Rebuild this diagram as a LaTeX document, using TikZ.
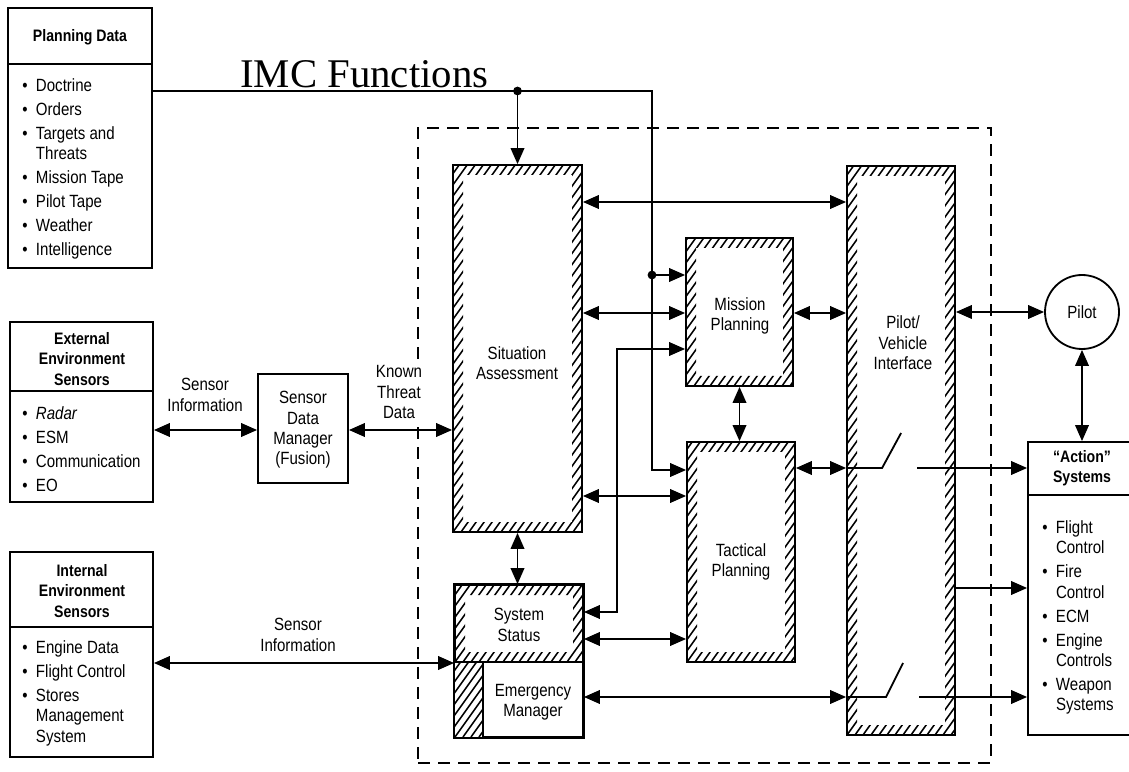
\documentclass[tikz,border=0pt]{standalone}
\usepackage{fontspec}
\setmainfont{Liberation Sans}[FakeStretch=0.85]
\newfontfamily\titlefont{Liberation Serif}
\usepackage{tikz}
\usetikzlibrary{arrows.meta,positioning,calc,fit}

\newcommand{\txt}{\fontsize{12.6}{14.5}\selectfont}
\newcommand{\hdr}{\fontsize{11.8}{14.5}\selectfont\bfseries}

\begin{document}
\begin{tikzpicture}[x=0.25mm,y=-0.25mm,
    >={Triangle[length=4mm,width=3.4mm]},
    box/.style={draw, line width=1.3pt, inner sep=0pt},
    conn/.style={line width=1.3pt},
    lbl/.style={font=\txt, align=center, inner sep=0pt},
    head/.style={font=\hdr, align=center, inner sep=0pt},
    imcbox/.style={draw, line width=1.3pt, dash pattern=on 3mm off 2mm, inner sep=0pt},
    hatched/.style={path picture={
      \begin{scope}[even odd rule]
        \clip (path picture bounding box.south west) rectangle (path picture bounding box.north east)
          ([shift={(#1,-#1)}]path picture bounding box.south west) rectangle ([shift={(-#1,#1)}]path picture bounding box.north east);
        \foreach \k in {-480,-472,...,150}
          \draw[line width=1.1pt] ([shift={(\k,0)}]path picture bounding box.south west) -- ++(500,-700);
      \end{scope}}},
    hatched/.default=10]
  \useasboundingbox (0,0) rectangle (1129,772);

  % title and IMC frame
  \node[font=\fontsize{29}{30}\selectfont\titlefont, anchor=base west, inner sep=0pt] (title) at (240,88) {IMC Functions};
  \node[imcbox, fit={(418,128) (991,763)}] (imc) {};

  % source boxes on the left
  \node[box, fit={(8,8) (152,268)}] (plan) {};
  \draw[line width=1.3pt] (plan.west |- 0,64) -- (plan.east |- 0,64);
  \node[head] (planhead) at (80,37) {Planning Data};
  \node[lbl, anchor=north west, align=left] (planlist) at (22,77) {%
    \begin{tabular}{@{}c@{\hspace{6pt}}l@{}}
      \textbullet & Doctrine\\[2.5pt]
      \textbullet & Orders\\[2.5pt]
      \textbullet & Targets and\\
                  & Threats\\[2.5pt]
      \textbullet & Mission Tape\\[2.5pt]
      \textbullet & Pilot Tape\\[2.5pt]
      \textbullet & Weather\\[2.5pt]
      \textbullet & Intelligence
    \end{tabular}};

  \node[box, fit={(10,322) (153,502)}] (ext) {};
  \draw[line width=1.3pt] (ext.west |- 0,391) -- (ext.east |- 0,391);
  \node[head] (exthead) at (82,359) {External\\Environment\\Sensors};
  \node[lbl, anchor=north west, align=left] (extlist) at (22,405) {%
    \begin{tabular}{@{}c@{\hspace{6pt}}l@{}}
      \textbullet & \textit{Radar}\\[2.5pt]
      \textbullet & ESM\\[2.5pt]
      \textbullet & Communication\\[2.5pt]
      \textbullet & EO
    \end{tabular}};

  \node[box, fit={(10,552) (153,757)}] (int) {};
  \draw[line width=1.3pt] (int.west |- 0,627) -- (int.east |- 0,627);
  \node[head] (inthead) at (82,591) {Internal\\Environment\\Sensors};
  \node[lbl, anchor=north west, align=left] (intlist) at (22,639) {%
    \begin{tabular}{@{}c@{\hspace{6pt}}l@{}}
      \textbullet & Engine Data\\[2.5pt]
      \textbullet & Flight Control\\[2.5pt]
      \textbullet & Stores\\
                  & Management\\
                  & System
    \end{tabular}};

  \node[box, fit={(258,374) (348,483)}] (sdm) {};
  \node[lbl] (sdmtxt) at (303,430) {Sensor\\Data\\Manager\\(Fusion)};
  \node[lbl] (seninfo) at (205,395) {Sensor\\Information};
  \node[lbl, fill=white, inner sep=1pt] (threat) at (399,392) {Known\\Threat\\Data};
  \node[lbl] (seninfob) at (298,635) {Sensor\\Information};

  % IMC function blocks
  \node[box, hatched, fit={(453,165) (582,532)}] (sa) {};
  \node[lbl] (satxt) at (517,363) {Situation\\Assessment};
  \node[box, hatched, fit={(455,585) (583,662)}] (ss) {};
  \node[hatched=14, inner sep=0pt, fit={(455,662) (483,737)}] (ssfoot) {};
  \node[box, fill=white, fit={(483,662) (583,737)}] (em) {};
  \draw[line width=1.3pt] (ss.north west) rectangle (em.south east);
  \node[lbl] (sstxt) at (519,625) {System\\Status};
  \node[lbl] (emtxt) at (533,702) {Emergency\\Manager};
  \node[box, hatched, fit={(686,238) (793,386)}] (mp) {};
  \node[lbl] (mptxt) at (740,316) {Mission\\Planning};
  \node[box, hatched, fit={(687,442) (795,662)}] (tp) {};
  \node[lbl] (tptxt) at (741,562) {Tactical\\Planning};
  \node[box, hatched, fit={(847,166) (955,735)}] (pvi) {};
  \node[lbl] (pvitxt) at (903,343) {Pilot/\\Vehicle\\Interface};

  % pilot and action systems
  \node[box, circle, minimum size=18.5mm, font=\txt] (pilot) at (1082,312) {Pilot};
  \node[box, fit={(1028,442) (1136,735)}] (act) {};
  \draw[line width=1.3pt] (act.west |- 0,495) -- (act.east |- 0,495);
  \node[head] (acthead) at (1082,468) {``Action''\\Systems};
  \node[lbl, anchor=north west, align=left] (actlist) at (1042,519) {%
    \begin{tabular}{@{}c@{\hspace{6pt}}l@{}}
      \textbullet & Flight\\
                  & Control\\[2.5pt]
      \textbullet & Fire\\
                  & Control\\[2.5pt]
      \textbullet & ECM\\[2.5pt]
      \textbullet & Engine\\
                  & Controls\\[2.5pt]
      \textbullet & Weapon\\
                  & Systems
    \end{tabular}};

  % planning data bus
  \coordinate (bus) at (652,91);
  \coordinate (j1) at (sa.north |- bus);
  \coordinate (j2) at (bus |- 0,275);
  \draw[conn,->] (plan.east |- bus) -- (bus) -- (bus |- 0,470) -- (tp.west |- 0,470);
  \draw[conn,->] (j1) -- (sa.north);
  \draw[conn,->] (j2) -- (mp.west |- j2);
  \fill (j1) circle (1.1mm);
  \fill (j2) circle (1.1mm);

  % sensor links
  \draw[conn,<->] (ext.east |- 0,430) -- (sdm.west |- 0,430);
  \draw[conn,<->] (sdm.east |- 0,430) -- (sa.west |- 0,430);
  \draw[conn,<->] (int.east |- 0,663) -- (ss.west |- 0,663);

  % links between the blocks
  \draw[conn,<->] (sa.east |- 0,202) -- (pvi.west |- 0,202);
  \draw[conn,<->] (sa.east |- 0,313) -- (mp.west |- 0,313);
  \draw[conn,<->] (mp.east |- 0,313) -- (pvi.west |- 0,313);
  \draw[conn,<->] (mp.west |- 0,349) -- (617,349) -- (617,612) -- (ss.east |- 0,612);
  \draw[conn,<->] (mp.south) -- (mp.south |- tp.north);
  \draw[conn,<->] (sa.east |- 0,496) -- (tp.west |- 0,496);
  \draw[conn,<->] (ss.east |- 0,639) -- (tp.west |- 0,639);
  \draw[conn,<->] (sa.south) -- (sa.south |- ss.north);
  \draw[conn,<->] (tp.east |- 0,468) -- (pvi.west |- 0,468);
  \draw[conn,<->] (em.east |- 0,697) -- (pvi.west |- 0,697);

  % switches to the action systems
  \coordinate (swa) at (pvi.west |- 0,468);
  \coordinate (swb) at (pvi.west |- 0,697);
  \draw[conn] (swa) -- ++(36,0) -- ++(19,-35);
  \draw[conn,->] ($(swa)+(71,0)$) -- (act.west |- swa);
  \draw[conn,->] (pvi.east |- 0,588) -- (act.west |- 0,588);
  \draw[conn] (swb) -- ++(40,0) -- ++(17,-34);
  \draw[conn,->] ($(swb)+(73,0)$) -- (act.west |- swb);

  % pilot
  \draw[conn,<->] (pvi.east |- pilot) -- (pilot.west);
  \draw[conn,<->] (pilot.south) -- (pilot.south |- act.north);
\end{tikzpicture}
\end{document}
